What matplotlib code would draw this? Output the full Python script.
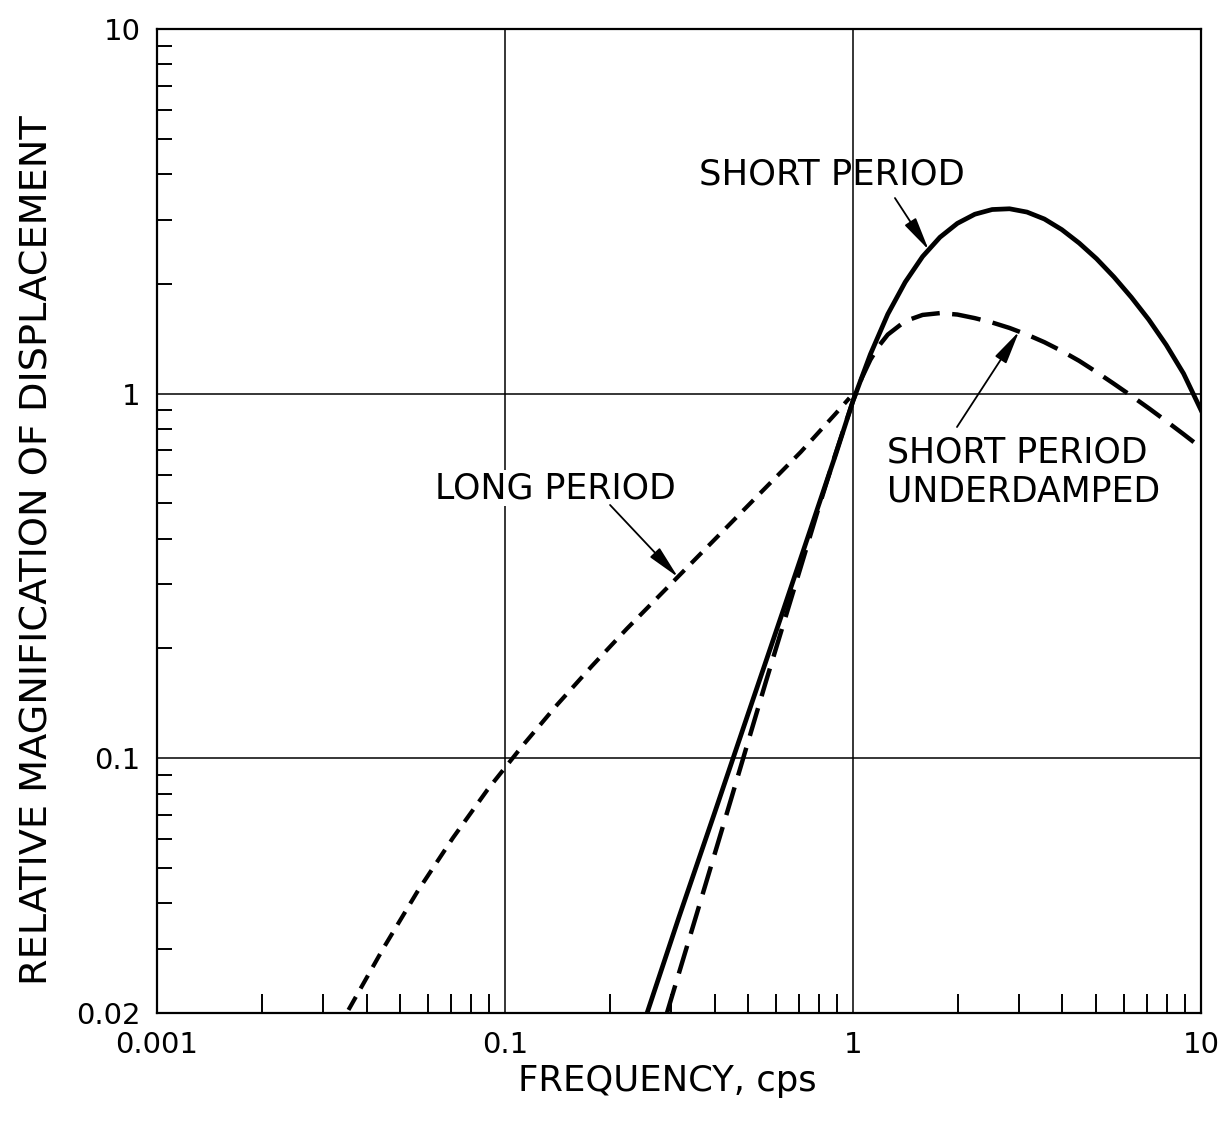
import numpy as np
import matplotlib
matplotlib.use("Agg")
import matplotlib.pyplot as plt
from matplotlib.ticker import FixedLocator, NullFormatter

# values (frequency in cps, relative magnification)
long_period_f = [0.0355, 0.0447, 0.0562, 0.0708, 0.0891, 0.1122, 0.1413, 0.1778,
                 0.2239, 0.2818, 0.3548, 0.4467, 0.5623, 0.7079, 0.8913, 0.977]
long_period_m = [0.0204, 0.0301, 0.0433, 0.0604, 0.0820, 0.1081, 0.1403, 0.1791,
                 0.2265, 0.2831, 0.354, 0.4426, 0.5534, 0.6918, 0.881, 0.973]

short_period_f = [0.256, 0.316, 0.398, 0.501, 0.631, 0.794, 0.891, 1.0, 1.122,
                  1.259, 1.413, 1.585, 1.778, 1.995, 2.239, 2.512, 2.818, 3.162,
                  3.548, 3.981, 4.467, 5.012, 5.623, 6.31, 7.079, 7.943, 8.913, 10.0]
short_period_m = [0.020, 0.0366, 0.0697, 0.1334, 0.2553, 0.49, 0.679, 0.955, 1.282,
                  1.652, 2.023, 2.377, 2.685, 2.931, 3.105, 3.199, 3.214, 3.148,
                  3.013, 2.818, 2.588, 2.344, 2.089, 1.837, 1.596, 1.361, 1.135, 0.902]

underdamped_f = [0.292, 0.355, 0.447, 0.562, 0.708, 0.794, 0.891, 1.0, 1.059, 1.122,
                 1.189, 1.259, 1.413, 1.585, 1.778, 1.995, 2.239, 2.512, 2.818, 3.162,
                 3.548, 3.981, 4.467, 5.012, 5.623, 6.31, 7.079, 7.943, 8.913, 10.0]
underdamped_m = [0.020, 0.0372, 0.0776, 0.1622, 0.335, 0.481, 0.684, 0.955, 1.102, 1.239,
                 1.355, 1.452, 1.581, 1.644, 1.663, 1.648, 1.611, 1.567, 1.514, 1.452,
                 1.384, 1.309, 1.230, 1.146, 1.064, 0.986, 0.912, 0.841, 0.774, 0.711]

x_ticks = [0.01, 0.1, 1, 10]
x_tick_labels = ["0.001", "0.1", "1", "10"]   # left label printed as in the original
y_ticks = [0.02, 0.1, 1, 10]
y_tick_labels = ["0.02", "0.1", "1", "10"]

plt.rcParams["font.family"] = ["DejaVu Sans"]

fig = plt.figure(figsize=(12.2, 11.22), dpi=100)
ax = fig.add_axes([0.1287, 0.0971, 0.8557, 0.877])
ax.set_xscale("log")
ax.set_yscale("log")
ax.set_xlim(0.01, 10)
ax.set_ylim(0.02, 10)

# grid only at 0.1 and 1
for v in [0.1, 1]:
    ax.axvline(v, color="black", lw=1.1, zorder=1)
    ax.axhline(v, color="black", lw=1.1, zorder=1)

ax.plot(long_period_f, long_period_m, color="black", lw=3.0,
        linestyle=(0, (3.6, 2.3)), zorder=4)
ax.plot(short_period_f, short_period_m, color="black", lw=3.4, zorder=4)
ax.plot(underdamped_f, underdamped_m, color="black", lw=3.2,
        linestyle=(0, (6.5, 2.8)), zorder=4)

# ticks
ax.xaxis.set_major_locator(FixedLocator(x_ticks))
ax.set_xticklabels(x_tick_labels)
ax.yaxis.set_major_locator(FixedLocator(y_ticks))
ax.set_yticklabels(y_tick_labels)
minor = [d * k for d in [0.01, 0.1, 1] for k in range(2, 10)]
ax.xaxis.set_minor_locator(FixedLocator(minor))
ax.yaxis.set_minor_locator(FixedLocator([v for v in minor if v > 0.02]))
ax.xaxis.set_minor_formatter(NullFormatter())
ax.yaxis.set_minor_formatter(NullFormatter())
ax.tick_params(axis="both", which="major", length=0, labelsize=21, colors="black")
ax.tick_params(axis="x", which="major", pad=13)
ax.tick_params(axis="y", which="major", pad=12)
ax.tick_params(axis="x", which="minor", direction="in", length=14, width=1.4,
               bottom=True, top=False)
ax.tick_params(axis="y", which="minor", direction="in", length=11, width=1.4,
               left=True, right=False)
for s in ax.spines.values():
    s.set_linewidth(1.6)

ax.set_xlabel("FREQUENCY, cps", fontsize=25.5)
ax.xaxis.set_label_coords(0.489, -0.052)
ax.set_ylabel("RELATIVE MAGNIFICATION OF DISPLACEMENT", fontsize=27.5)
ax.yaxis.set_label_coords(-0.097, 0.47)

# curve labels with arrows
box = dict(facecolor="white", edgecolor="none", pad=1)
ax.text(0.87, 3.98, "SHORT PERIOD", fontsize=25.5, ha="center", va="center",
        zorder=2)
ax.text(0.14, 0.551, "LONG PERIOD", fontsize=25, ha="center", va="center",
        bbox=box, zorder=2)
ax.text(1.25, 0.609, "SHORT PERIOD\nUNDERDAMPED", fontsize=25, ha="left",
        va="center", linespacing=1.2, zorder=2)

arrow = dict(arrowstyle="-|>,head_length=0.85,head_width=0.17", color="black",
             lw=1.3, mutation_scale=24, shrinkA=0, shrinkB=0)
ax.annotate("", xy=(1.65, 2.48), xytext=(1.32, 3.44), arrowprops=arrow, zorder=5)
ax.annotate("", xy=(3.0, 1.48), xytext=(1.99, 0.81), arrowprops=arrow, zorder=5)
ax.annotate("", xy=(0.314, 0.314), xytext=(0.2004, 0.495), arrowprops=arrow, zorder=5)

fig.savefig("out.png", dpi=100)
